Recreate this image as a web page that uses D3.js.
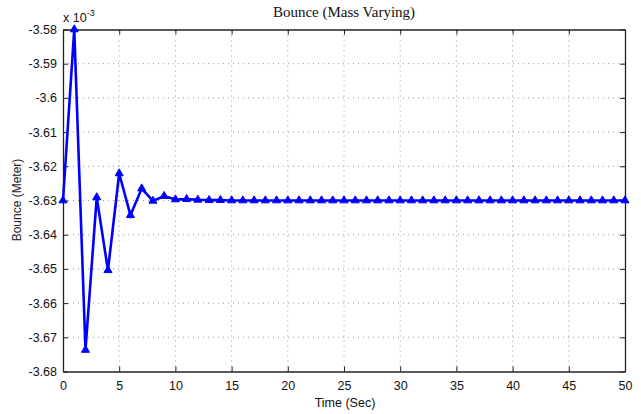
<!DOCTYPE html>
<html><head><meta charset="utf-8">
<script src="https://cdn.jsdelivr.net/npm/d3@7"></script>
<style>body{margin:0;background:#fff;} svg{display:block;}</style>
</head><body>
<script>
const times = d3.range(0, 51);
const bounce = [-3.6300, -3.5800, -3.6737, -3.6291, -3.6504, -3.6221, -3.6343, -3.6265, -3.6301, -3.6287,
  -3.6297, -3.6296, -3.6298, -3.6299, -3.6299, -3.6300, -3.6300, -3.6300, -3.6300, -3.6300,
  -3.6300, -3.6300, -3.6300, -3.6300, -3.6300, -3.6300, -3.6300, -3.6300, -3.6300, -3.6300,
  -3.6300, -3.6300, -3.6300, -3.6300, -3.6300, -3.6300, -3.6300, -3.6300, -3.6300, -3.6300,
  -3.6300, -3.6300, -3.6300, -3.6300, -3.6300, -3.6300, -3.6300, -3.6300, -3.6300, -3.6300, -3.6300];
const xTicks = d3.range(0, 51, 5);
const yTicks = [-3.68, -3.67, -3.66, -3.65, -3.64, -3.63, -3.62, -3.61, -3.6, -3.59, -3.58];
const titleText = "Bounce (Mass Varying)";
const xLabel = "Time (Sec)";
const yLabel = "Bounce (Meter)";

const W = 641, H = 414;
const m = {left: 63, right: 16, top: 29.5, bottom: 42.5};
const svg = d3.select("body").append("svg").attr("width", W).attr("height", H);
const x = d3.scaleLinear().domain([0, 50]).range([m.left, W - m.right]);
const y = d3.scaleLinear().domain([-3.68, -3.58]).range([H - m.bottom, m.top]);
const font = "'Liberation Sans', Arial, sans-serif";

// grid
const g = svg.append("g");
g.selectAll(".gx").data(xTicks.slice(1, -1)).join("line")
  .attr("x1", d => x(d)).attr("x2", d => x(d)).attr("y1", y.range()[0]).attr("y2", y.range()[1])
  .attr("stroke", "#999").attr("stroke-width", 1).attr("stroke-dasharray", "1,4");
g.selectAll(".gy").data(yTicks.slice(1, -1)).join("line")
  .attr("y1", d => y(d)).attr("y2", d => y(d)).attr("x1", x.range()[0]).attr("x2", x.range()[1])
  .attr("stroke", "#999").attr("stroke-width", 1).attr("stroke-dasharray", "1,4");

// axes
const xAxis = svg.append("g").attr("transform", `translate(0,${y.range()[0]})`)
  .call(d3.axisBottom(x).tickValues(xTicks).tickSizeInner(-5).tickSizeOuter(0).tickPadding(10).tickFormat(d3.format("d")));
const xAxisTop = svg.append("g").attr("transform", `translate(0,${y.range()[1]})`)
  .call(d3.axisTop(x).tickValues(xTicks).tickSizeInner(-5).tickSizeOuter(0).tickFormat(""));
const yAxis = svg.append("g").attr("transform", `translate(${x.range()[0]},0)`)
  .call(d3.axisLeft(y).tickValues(yTicks).tickSizeInner(-5).tickSizeOuter(0).tickPadding(6).tickFormat(d => String(+d.toFixed(2))));
const yAxisR = svg.append("g").attr("transform", `translate(${x.range()[1]},0)`)
  .call(d3.axisRight(y).tickValues(yTicks).tickSizeInner(-5).tickSizeOuter(0).tickFormat(""));
[xAxis, xAxisTop, yAxis, yAxisR].forEach(a => {
  a.select(".domain").attr("stroke", "#222").attr("stroke-width", 1.3);
  a.selectAll(".tick line").attr("stroke", "#222").attr("stroke-width", 1);
  a.selectAll(".tick text").attr("font-family", font).attr("font-size", 12.5).attr("fill", "#111");
});
xAxis.selectAll(".tick text").attr("dy", "0.71em");

// line
svg.append("path").datum(times.map((t, i) => [t, bounce[i]]))
  .attr("d", d3.line().x(d => x(d[0])).y(d => y(d[1])))
  .attr("fill", "none").attr("stroke", "#0000ff").attr("stroke-width", 2.6).attr("stroke-linejoin", "miter");
const tri = d3.symbol().type(d3.symbolTriangle).size(28);
svg.selectAll(".mk").data(times.map((t, i) => [t, bounce[i]])).join("path")
  .attr("d", tri).attr("transform", d => `translate(${x(d[0])},${y(d[1])})`)
  .attr("fill", "#0000ff").attr("stroke", "#0000ff").attr("stroke-width", 1);

// texts
svg.append("text").attr("x", 344).attr("y", 17).attr("text-anchor", "middle")
  .attr("font-family", "'Liberation Serif', 'Times New Roman', serif").attr("font-size", 15).attr("fill", "#111").text(titleText);
svg.append("text").attr("x", 345).attr("y", 407).attr("text-anchor", "middle")
  .attr("font-family", font).attr("font-size", 12.5).attr("fill", "#111").text(xLabel);
svg.append("text").attr("transform", "translate(21,200) rotate(-90)").attr("text-anchor", "middle")
  .attr("font-family", font).attr("font-size", 12).attr("fill", "#222").text(yLabel);
const ex = svg.append("text").attr("x", 63).attr("y", 22).attr("font-family", font).attr("font-size", 12.5).attr("fill", "#111");
ex.append("tspan").text("x 10");
ex.append("tspan").attr("dy", -6).attr("font-size", 9).text("-3");
</script>
</body></html>
